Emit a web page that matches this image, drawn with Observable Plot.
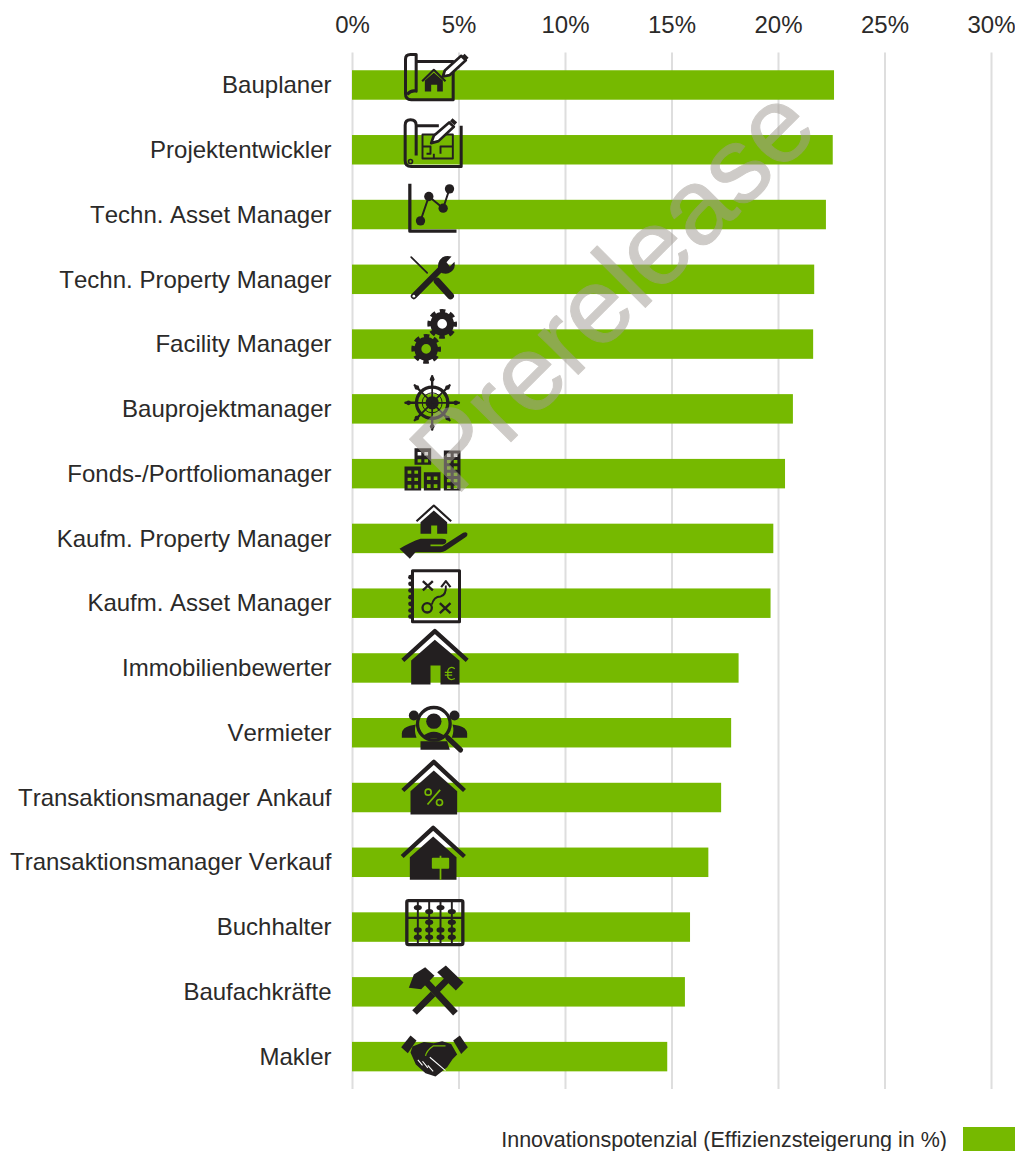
<!DOCTYPE html>
<html><head><meta charset="utf-8">
<script src="https://cdn.jsdelivr.net/npm/d3@7"></script>
<script src="https://cdn.jsdelivr.net/npm/@observablehq/plot@0.6"></script>
<style>
html,body{margin:0;padding:0;background:#fff;}
#chart svg{display:block;font-kerning:none;}
#legend{display:flex;justify-content:flex-end;align-items:flex-start;width:1015px;height:51px;font-family:"Liberation Sans",Arial,sans-serif;font-size:21.5px;font-kerning:none;color:#2b2a29;line-height:26px;}
#legend span{margin-top:27px;margin-right:16px;white-space:nowrap;}
#legend i{display:block;width:52px;height:24px;margin-top:27px;background:#76b900;}
</style></head><body>
<div id="chart"></div>
<div id="legend"><span>Innovationspotenzial (Effizienzsteigerung in %)</span><i></i></div>
<script>
const roles=["Bauplaner","Projektentwickler","Techn. Asset Manager","Techn. Property Manager","Facility Manager","Bauprojektmanager","Fonds-/Portfoliomanager","Kaufm. Property Manager","Kaufm. Asset Manager","Immobilienbewerter","Vermieter","Transaktionsmanager Ankauf","Transaktionsmanager Verkauf","Buchhalter","Baufachkräfte","Makler"];
const potential=[22.63,22.57,22.25,21.7,21.65,20.7,20.33,19.78,19.65,18.15,17.8,17.33,16.73,15.87,15.63,14.8];
const xTicks=[0,5,10,15,20,25,30];

const D="#231f20",G="#76b900";
const poly=(p,f=D)=>`<polygon points="${p}" fill="${f}"/>`;
const ln=(d,w,c=D,cap="butt")=>`<path d="${d}" fill="none" stroke="${c}" stroke-width="${w*1.3}" stroke-linecap="${cap}" stroke-linejoin="round"/>`;
const circ=(x,y,r,f=D)=>`<circle cx="${x}" cy="${y}" r="${r}" fill="${f}"/>`;
const ring=(x,y,r,w,c=D)=>`<circle cx="${x}" cy="${y}" r="${r}" fill="none" stroke="${c}" stroke-width="${w}"/>`;
const rectP=(x,y,w,h)=>`M${x},${y}h${w}v${h}h${-w}Z`;
function building(x,y,w,h,cols,rows,ww,wh){
  let d=rectP(x,y,w,h);
  const gx=(w-cols*ww)/(cols+1), gy=(h-rows*wh)/(rows+0.6);
  for(let c=0;c<cols;c++)for(let r=0;r<rows;r++)d+=rectP(x+gx+c*(ww+gx),y+gy+r*(wh+gy),ww,wh);
  return `<path d="${d}" fill="${D}" fill-rule="evenodd"/>`;
}
function gear(x,y){const r=38,n=8,c=2*Math.PI*r,dash=c/n*0.55;
  return ring(x,y,25,21)+`<circle cx="${x}" cy="${y}" r="${r}" fill="none" stroke="${D}" stroke-width="13" stroke-dasharray="${dash} ${c/n-dash}" stroke-dashoffset="${dash/2}"/>`;}
function wheel(x,y){let s=ring(x,y,47,10)+ring(x,y,30,3)+circ(x,y,20);
  for(let k=0;k<8;k++){const a=k*Math.PI/4,ca=Math.cos(a),sa=Math.sin(a),R=k%2?74:80;
    s+=ln(`M${x},${y}L${x+ca*48},${y+sa*48}`,4);
    s+=ln(`M${x+ca*50},${y+sa*50}L${x+ca*R},${y+sa*R}`,5.5,D,"round");
    s+=circ(x+ca*(R-9),y+sa*(R-9),7);}
  return s;}

const iconParts=[
 [-45, ln("M77,63H188V178H62Q45,178 45,160V56Q45,42 60,42H77V152Q62,148 50,162",7)+
   ln("M95,122L130,88L165,122",5)+poly("103,120 130,97 157,120 157,153 140,153 140,133 122,133 122,153 103,153")+
   `<path d="M157,108L163,90L212,46L226,59L177,104Z" fill="#fff" stroke="${D}" stroke-width="8" stroke-linejoin="round"/>`+ln("M218,44L230,56",9)],
 [-109.8, ln("M77,256H145M212,256V378H62Q44,378 44,360V254Q44,238 60,238Q77,238 77,254V345",7)+ring(60,363,6,5)+
   ln("M96,282H187V354H96ZM96,318H120V340H108M142,282V300M164,318H187M150,340V318H164M130,354V340",4.5)+
   `<path d="M122,308L130,286L176,246L190,259L144,302Z" fill="#fff" stroke="${D}" stroke-width="8" stroke-linejoin="round"/>`+ln("M182,238L196,250",9)],
 [-174.5, ln("M58,430V572H198",7.5)+ln("M90,541L115,468L158,503L177,445",4.5)+circ(90,541,14)+circ(115,468,14)+circ(158,503,14)+circ(177,445,14)],
 [-239.3, ln("M70,767L148,688",14,D,"round")+`<path d="M145,692Q136,665 156,650Q168,644 183,648L168,665L178,678L192,664Q196,684 182,694Q165,706 145,692Z" fill="${D}"/>`+circ(70,767,4,"#fff")+
   ln("M62,650L110,697",4,D,"round")+ln("M140,722L180,766",16,D,"round")],
 [-304, gear(155,850)+gear(107,925)],
 [-38.9, wheel(125,97)],
 [-103.6, building(72,233,50,50,2,2,11,10)+building(42,288,50,72,2,3,11,10)+building(100,305,50,55,2,2,11,11)+building(160,240,50,120,2,6,11,10)],
 [-168.4, ln("M78,452L130,405L182,452",5)+poly("90,455 130,420 170,455 170,490 140,490 140,465 122,465 122,490 90,490")+
   `<path d="M27,535Q60,515 90,505H155Q170,505 167,515Q164,523 148,522H120V527H155L218,487Q228,482 231,490Q232,497 224,501L165,541Q158,545 150,545H75L58,565Z" fill="${D}"/>`],
 [-233.2, ln("M66,601H207V754H66Z",7)+[620,640,660,680,700,720,738].map(y=>circ(60,y,7)).join("")+
   ln("M97,632L127,660M127,632L97,660M148,698L180,728M180,698L148,728",5.5)+ring(110,712,14,7)+
   ln("M124,702Q130,678 150,678Q168,674 166,645",4.5)+ln("M152,650L166,632L180,650",5)],
 [-298, ln("M37,870L133,782L230,870",10)+poly("62,870 133,808 207,870 207,942 150,942 150,885 120,885 120,942 62,942")+
   ln("M193,895Q178,885 172,900V920Q178,932 193,924M163,906H185M163,914H185",3,G)],
 [-32.7, circ(70,45,15)+circ(192,45,15)+`<path d="M34,112V98Q36,82 58,76L76,72Q70,90 78,112Z" fill="${D}"/><path d="M230,112V98Q228,82 206,76L186,72Q192,90 184,112Z" fill="${D}"/>`+
   ring(130,70,49,10)+circ(130,62,23)+`<path d="M95,108Q130,80 165,108Q130,120 95,108Z" fill="${D}"/>`+
   poly("90,122 170,122 178,148 90,148")+ln("M172,112L210,148",12,D,"round")],
 [-97.5, ln("M37,270L130,184L222,270",10)+poly("60,272 130,210 200,272 200,342 60,342")+ln("M111,312L149,268",4,G)+ring(113,275,9,5,G)+ring(147,306,9,5,G)],
 [-162.3, ln("M35,468L128,382L222,468",10)+poly("58,470 128,408 198,470 198,538 58,538")+`<rect x="124" y="472" width="52" height="33" rx="3" fill="${G}"/>`+ln("M150,466V538",4,G)],
 [-227, `<rect x="49" y="600" width="168" height="132" rx="5" fill="none" stroke="${D}" stroke-width="10"/>`+ln("M49,652H217",5)+ln("M82,600V732M116,600V732M150,600V732M184,600V732",4.5)+
   [[82,621],[150,621],[116,633],[184,633],[116,665],[184,665],[82,688],[116,688],[150,688],[184,688],[82,710],[116,710],[150,710],[184,710]].map(([x,y])=>`<ellipse cx="${x}" cy="${y}" rx="12" ry="8" fill="${D}"/>`).join("")],
 [-291.8, ln("M72,936L128,880M140,868L172,836",15)+ln("M100,836L195,938",15)+
   poly("55,862 70,822 104,800 132,826 92,866")+poly("140,815 166,795 219,846 196,870")],
 [-356.5, poly("32,1040 60,1005 78,1020 52,1058")+poly("188,1020 208,1005 232,1040 212,1060")+
   poly("66,1038 100,1024 130,1028 155,1022 182,1030 200,1062 186,1076 170,1100 135,1128 105,1118 76,1092 60,1056")+
   ln("M105,1066Q108,1050 128,1036H165",3,G)+ln("M118,1070L165,1110M82,1078L96,1094M96,1082L112,1102M112,1094L128,1112",2.5,"#fff")]
];
const iconSrc=iconParts.map(([off,body])=>"data:image/svg+xml;charset=utf-8,"+encodeURIComponent(
 `<svg xmlns="http://www.w3.org/2000/svg" width="100" height="100" viewBox="-50 -50 100 100"><g transform="translate(-43,${off}) scale(${1/3})">${body}</g></svg>`));
const iconRows=roles.map((role,i)=>({role,src:iconSrc[i]}));
const rows=roles.map((role,i)=>({role,value:potential[i]}));

const plot=Plot.plot({
  width:1015,height:1100,marginLeft:352,marginRight:24,marginTop:52.6,marginBottom:11,
  style:{fontFamily:"'Liberation Sans',Arial,sans-serif",background:"#fff",color:"#2b2a29"},
  x:{domain:[0,30]},
  y:{domain:roles,paddingInner:0.545,paddingOuter:0.2725,align:0.5,round:false},
  marks:[
    Plot.ruleX(xTicks,{stroke:"#dedede",strokeWidth:2}),
    Plot.barX(rows,{x:"value",y:"role",fill:G}),
    Plot.image(iconRows,{x:()=>3.803,y:"role",src:"src",width:100,height:100}),
    Plot.text(["Prerelease"],{frameAnchor:"middle",dx:-58,dy:-281,rotate:-45,fontSize:107,fill:"#a39d96",stroke:"#a39d96",strokeWidth:1,opacity:0.52,fontFamily:"'Liberation Sans',Arial,sans-serif"}),
    Plot.axisX(xTicks,{anchor:"top",tickSize:0,tickPadding:20,label:null,tickFormat:d=>d+"%",fontSize:24,fill:"#2b2a29"}),
    Plot.axisY({anchor:"left",tickSize:0,tickPadding:21,label:null,fontSize:24,fill:"#2b2a29"})
  ]
});
document.getElementById("chart").appendChild(plot);
</script></body></html>
